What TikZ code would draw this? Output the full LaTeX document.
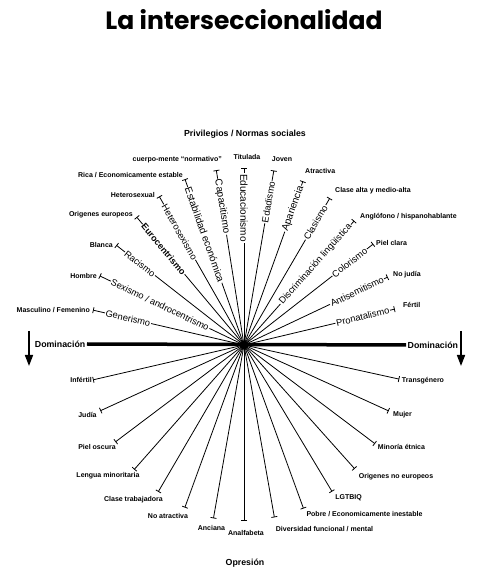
\documentclass[tikz,border=0pt]{standalone}
\usepackage{fontspec}
\setmainfont{Liberation Sans}
\newfontfamily\titlefont{Poppins}
\usetikzlibrary{arrows.meta,calc}
\begin{document}
\begin{tikzpicture}[x=1pt,y=1pt,
  spokeline/.style={line width=0.8pt,-{Bar[width=6pt,line width=0.8pt]}},
  lbl/.style={fill=white,inner sep=0.8pt,font=\fontsize{9.3}{10}\selectfont},
  lblb/.style={lbl,font=\bfseries\fontsize{9}{10}\selectfont},
  lbll/.style={lbl,font=\fontsize{10}{11}\selectfont},
  plab/.style={inner sep=0pt,font=\bfseries\fontsize{7}{8}\selectfont},
  head/.style={inner sep=0pt,font=\bfseries\fontsize{8.8}{10}\selectfont},
  darrow/.style={line width=1.6pt,-{Triangle[width=8pt,length=11pt]}}]
\useasboundingbox (-244,-232) rectangle (245,345);
\fill[white] (-244,-232) rectangle (245,345);

% title and headings
\node[font=\titlefont\bfseries\fontsize{25}{30}\selectfont] (title) at (0,325) {La interseccionalidad};
\node[head] (priv) at (1,211) {Privilegios / Normas sociales};
\node[head] (opr) at (1,-218) {Opresión};

% centre
\node[circle,fill=black,inner sep=0pt,minimum size=9pt] (O) at (0,0) {};

% upper spokes
\foreach \a/\l [count=\i] in {167/155,154.4/160,142/162,130/167,119.7/171,109.6/176,99/177,90/177,80.3/177,70.2/174,59.7/170,48.4/166,38/164,25.3/159,13.4/155}{
  \coordinate (u\i) at (\a:\l);
  \draw[spokeline] (O.center) -- (u\i);
}
% lower spokes
\foreach \a/\l [count=\i] in {193/155,204.6/158,217/161,228.6/166,239.7/170,250/173,260/176,270/176,280/175,290/174,301/171,311.8/166,323/164,335.5/159,347.6/159}{
  \coordinate (d\i) at (\a:\l);
  \draw[spokeline] (O.center) -- (d\i);
}

% labels on the upper spokes
\node[lbl,rotate=-13] (s1) at (167:119) {Generismo};
\node[lbl,rotate=-25.6] (s2) at (154.4:93) {Sexismo / androcentrismo};
\node[lbl,rotate=-38] (s3) at (142:132) {Racismo};
\node[lblb,rotate=-50] (s4) at (130:125) {Eurocentrismo};
\node[lbl,rotate=-60.3] (s5) at (119.7:130) {Heterosexismo};
\node[lbll,rotate=-70.4] (s6) at (109.6:117) {Estabilidad económica};
\node[lbll,rotate=-81] (s7) at (99:140) {Capacitismo};
\node[lbll,rotate=-90] (s8) at (90:137) {Educacionismo};
\node[lbl,rotate=80.3] (s9) at (80.3:145) {Edadismo};
\node[lbll,rotate=70.2] (s10) at (70.2:145) {Apariencia};
\node[lbl,rotate=59.7] (s11) at (59.7:142) {Clasismo};
\node[lbl,rotate=48.4] (s12) at (48.4:108) {Discriminación lingüística};
\node[lbl,rotate=38] (s13) at (38:134) {Colorismo};
\node[lbl,rotate=25.3] (s14) at (25.3:125) {Antisemitismo};
\node[lbl,rotate=13.4] (s15) at (13.4:122) {Pronatalismo};

% end labels, privileges
\node[plab,anchor=east] (p1) at (-154,35) {Masculino / Femenino};
\node[plab,anchor=east] (p2) at (-147,69) {Hombre};
\node[plab,anchor=east] (p3) at (-131,100) {Blanca};
\node[plab,anchor=east] (p4) at (-111,130) {Origenes europeos};
\node[plab,anchor=east] (p5) at (-89,150) {Heterosexual};
\node[plab,anchor=east] (p6) at (-61,170) {Rica / Economicamente estable};
\node[plab,anchor=east] (p7) at (-22,185) {cuerpo-mente ``normativo''};
\node[plab] (p8) at (3,188) {Titulada};
\node[plab] (p9) at (38,186) {Joven};
\node[plab,anchor=west] (p10) at (61,174) {Atractiva};
\node[plab,anchor=west] (p11) at (91,154) {Clase alta y medio-alta};
\node[plab,anchor=west] (p12) at (116,128) {Anglófono / hispanohablante};
\node[plab,anchor=west] (p13) at (132,102) {Piel clara};
\node[plab,anchor=west] (p14) at (149,70) {No judía};
\node[plab,anchor=west] (p15) at (159,40) {Fértil};

% end labels, oppression
\node[plab,anchor=east] (q1) at (-152,-35) {Infértil};
\node[plab] (q2) at (-156.5,-70) {Judía};
\node[plab] (q3) at (-147,-102) {Piel oscura};
\node[plab] (q4) at (-136,-131) {Lengua minoritaria};
\node[plab] (q5) at (-110.5,-155) {Clase trabajadora};
\node[plab] (q6) at (-76,-171) {No atractiva};
\node[plab] (q7) at (-32.5,-183) {Anciana};
\node[plab] (q8) at (2,-188) {Analfabeta};
\node[plab] (q9) at (80.5,-184) {Diversidad funcional / mental};
\node[plab] (q10) at (120.5,-169) {Pobre / Economicamente inestable};
\node[plab] (q11) at (104.5,-153) {LGTBIQ};
\node[plab] (q12) at (152,-132) {Origenes no europeos};
\node[plab] (q13) at (157.5,-102) {Minoría étnica};
\node[plab] (q14) at (158.5,-70) {Mujer};
\node[plab] (q15) at (179,-36) {Transgénero};

% domination axis
\node[head,anchor=east,inner sep=1.5pt] (domL) at (-157,1) {Dominación};
\node[head,anchor=west,inner sep=1.5pt] (domR) at (162,0) {Dominación};
\draw[line width=3.5pt] (domL.east) -- (domR.west);
\coordinate (aL1) at (-215,14);
\coordinate (aL2) at (-215,-21);
\coordinate (aR1) at (217,14);
\coordinate (aR2) at (217,-21);
\draw[darrow] (aL1) -- (aL2);
\draw[darrow] (aR1) -- (aR2);
\end{tikzpicture}
\end{document}
